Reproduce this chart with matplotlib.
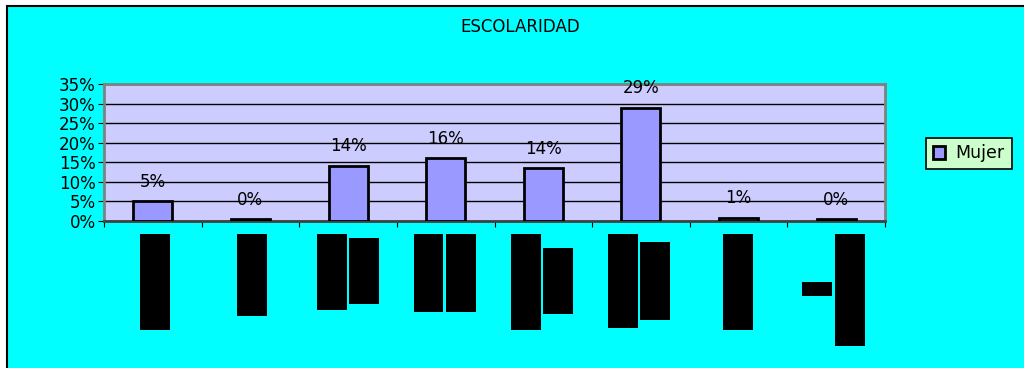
import matplotlib.pyplot as plt
from matplotlib.patches import Rectangle, Patch
from matplotlib.ticker import FixedLocator, PercentFormatter

# datos: proporción de mujeres por nivel de escolaridad
niveles = ["N1", "N2", "N3", "N4", "N5", "N6", "N7", "N8"]
mujer = [0.05, 0.004, 0.141, 0.161, 0.135, 0.289, 0.008, 0.004]
ticks_y = [0, 0.05, 0.10, 0.15, 0.20, 0.25, 0.30, 0.35]

# etiquetas de categoría tapadas (x0, y0, x1, y1 en píxeles)
tapas = [
    (140, 234, 170, 330), (237, 234, 267, 316),
    (317, 234, 347, 310), (349, 238, 379, 304),
    (414, 234, 443, 312), (446, 234, 476, 312),
    (511, 234, 541, 330), (543, 248, 573, 314),
    (608, 234, 638, 328), (640, 242, 670, 320),
    (723, 234, 753, 330),
    (802, 282, 832, 296), (835, 234, 865, 346),
]

W, H = 1024, 368
plt.rcParams['font.family'] = ['DejaVu Sans']

fig = plt.figure(figsize=(W / 100, H / 100), dpi=100, facecolor="white")

# fondo cian con borde negro
fondo = Rectangle((7 / W, -0.05), 1.1, 1 - 6 / H + 0.05,
                  transform=fig.transFigure, facecolor="#00FFFF",
                  edgecolor="black", linewidth=1.5, zorder=-10)
fig.add_artist(fondo)

ax = fig.add_axes([104 / W, 1 - 221 / H, 781 / W, 137 / H])
ax.set_zorder(1)
ax.set_facecolor("#CCCCFF")

x = range(len(niveles))
ax.bar(x, mujer, width=0.4, color="#9999FF", edgecolor="black",
       linewidth=2, zorder=3)

for i, v in enumerate(mujer):
    ax.annotate(f"{v * 100:.0f}%", (i, v), xytext=(0, 14),
                textcoords="offset points", ha="center", va="center",
                fontsize=12)

ax.set_xlim(-0.5, len(niveles) - 0.5)
ax.set_ylim(0, 0.35)
ax.yaxis.set_major_locator(FixedLocator(ticks_y))
ax.yaxis.set_major_formatter(PercentFormatter(1.0, decimals=0))
ax.tick_params(axis="y", labelsize=12, length=4, direction="out", pad=2)
ax.grid(axis="y", color="black", linewidth=1, zorder=1)
ax.set_axisbelow(True)

ax.set_xticks([i - 0.5 for i in range(len(niveles) + 1)])
ax.set_xticklabels([])
ax.tick_params(axis="x", length=4, direction="out")

for side in ["top", "right", "left"]:
    ax.spines[side].set_color("#808080")
    ax.spines[side].set_linewidth(2)
ax.spines["bottom"].set_color("#404040")
ax.spines["bottom"].set_linewidth(2)

fig.text(520 / W, 1 - 27 / H, "ESCOLARIDAD", ha="center", va="center",
         fontsize=12)

for x0, y0, x1, y1 in tapas:
    fig.add_artist(Rectangle((x0 / W, 1 - y1 / H), (x1 - x0) / W,
                             (y1 - y0) / H, transform=fig.transFigure,
                             facecolor="black", edgecolor="none", zorder=5))

leg = fig.legend(handles=[Patch(facecolor="#9999FF", edgecolor="black",
                                linewidth=2, label="Mujer")],
                 loc="center", bbox_to_anchor=(969 / W, 1 - 153.5 / H),
                 fontsize=12.5, frameon=True, fancybox=False,
                 handlelength=0.7, handleheight=0.7, handletextpad=0.6,
                 borderpad=0.4, borderaxespad=0)
leg.get_frame().set_facecolor("#CCFFCC")
leg.get_frame().set_edgecolor("black")
leg.get_frame().set_linewidth(1.2)
leg.get_frame().set_alpha(1)
leg.set_zorder(6)

fig.savefig("out.png", dpi=100, facecolor=fig.get_facecolor())
